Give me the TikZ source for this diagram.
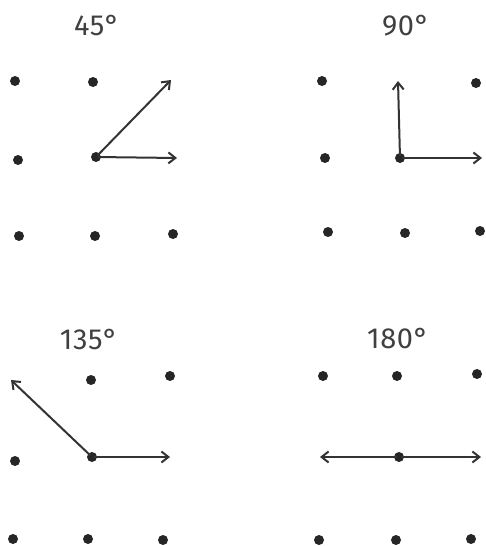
\documentclass[tikz,border=0pt]{standalone}
\usepackage{fontspec}
\setmainfont{Fira Sans}
\usetikzlibrary{arrows.meta}

\begin{document}
\begin{tikzpicture}[
  x=1pt, y=-1pt,
  >={Straight Barb[length=7pt, width=11pt]},
  dot/.style={circle, fill=black!85, inner sep=0pt, minimum size=10pt},
  ray/.style={->, line width=2pt, black!80, shorten <=-3pt},
  ang/.style={font=\fontsize{29}{29}\selectfont\addfontfeatures{LetterSpace=2}, text=black!75},
]
\useasboundingbox (0,0) rectangle (486,546);
% 45 degrees
\node[ang] (l45) at (97,26) {45°};
\node[dot] (a11) at (15,81) {};
\node[dot] (a12) at (93,82) {};
\coordinate (a13) at (171,80);
\node[dot] (a21) at (18,160) {};
\node[dot] (a22) at (96,157) {};
\coordinate (a23) at (177,158);
\node[dot] (a31) at (19,236) {};
\node[dot] (a32) at (95,236) {};
\node[dot] (a33) at (173,234) {};
\draw[ray] (a22) -- (a13);
\draw[ray] (a22) -- (a23);
% 90 degrees
\node[ang] (l90) at (406,26) {90°};
\node[dot] (b11) at (322,81) {};
\coordinate (b12) at (398,81);
\node[dot] (b13) at (476,83) {};
\node[dot] (b21) at (325,158) {};
\node[dot] (b22) at (400,158) {};
\coordinate (b23) at (482,158);
\node[dot] (b31) at (328,232) {};
\node[dot] (b32) at (405,233) {};
\node[dot] (b33) at (480,231) {};
\draw[ray] (b22) -- (b12);
\draw[ray] (b22) -- (b23);
% 135 degrees
\node[ang] (l135) at (89,340) {135°};
\coordinate (c11) at (11,380);
\node[dot] (c12) at (91,380) {};
\node[dot] (c13) at (170,376) {};
\node[dot] (c21) at (15,461) {};
\node[dot] (c22) at (92,457) {};
\coordinate (c23) at (170,457);
\node[dot] (c31) at (13,539) {};
\node[dot] (c32) at (88,539) {};
\node[dot] (c33) at (163,540) {};
\draw[ray] (c22) -- (c11);
\draw[ray] (c22) -- (c23);
% 180 degrees
\node[ang] (l180) at (398,339) {180°};
\node[dot] (d11) at (323,376) {};
\node[dot] (d12) at (397,376) {};
\node[dot] (d13) at (477,374) {};
\coordinate (d21) at (320,457);
\node[dot] (d22) at (399,457) {};
\coordinate (d23) at (481,457);
\node[dot] (d31) at (319,540) {};
\node[dot] (d32) at (396,540) {};
\node[dot] (d33) at (471,539) {};
\draw[ray] (d22) -- (d21);
\draw[ray] (d22) -- (d23);
\end{tikzpicture}
\end{document}
